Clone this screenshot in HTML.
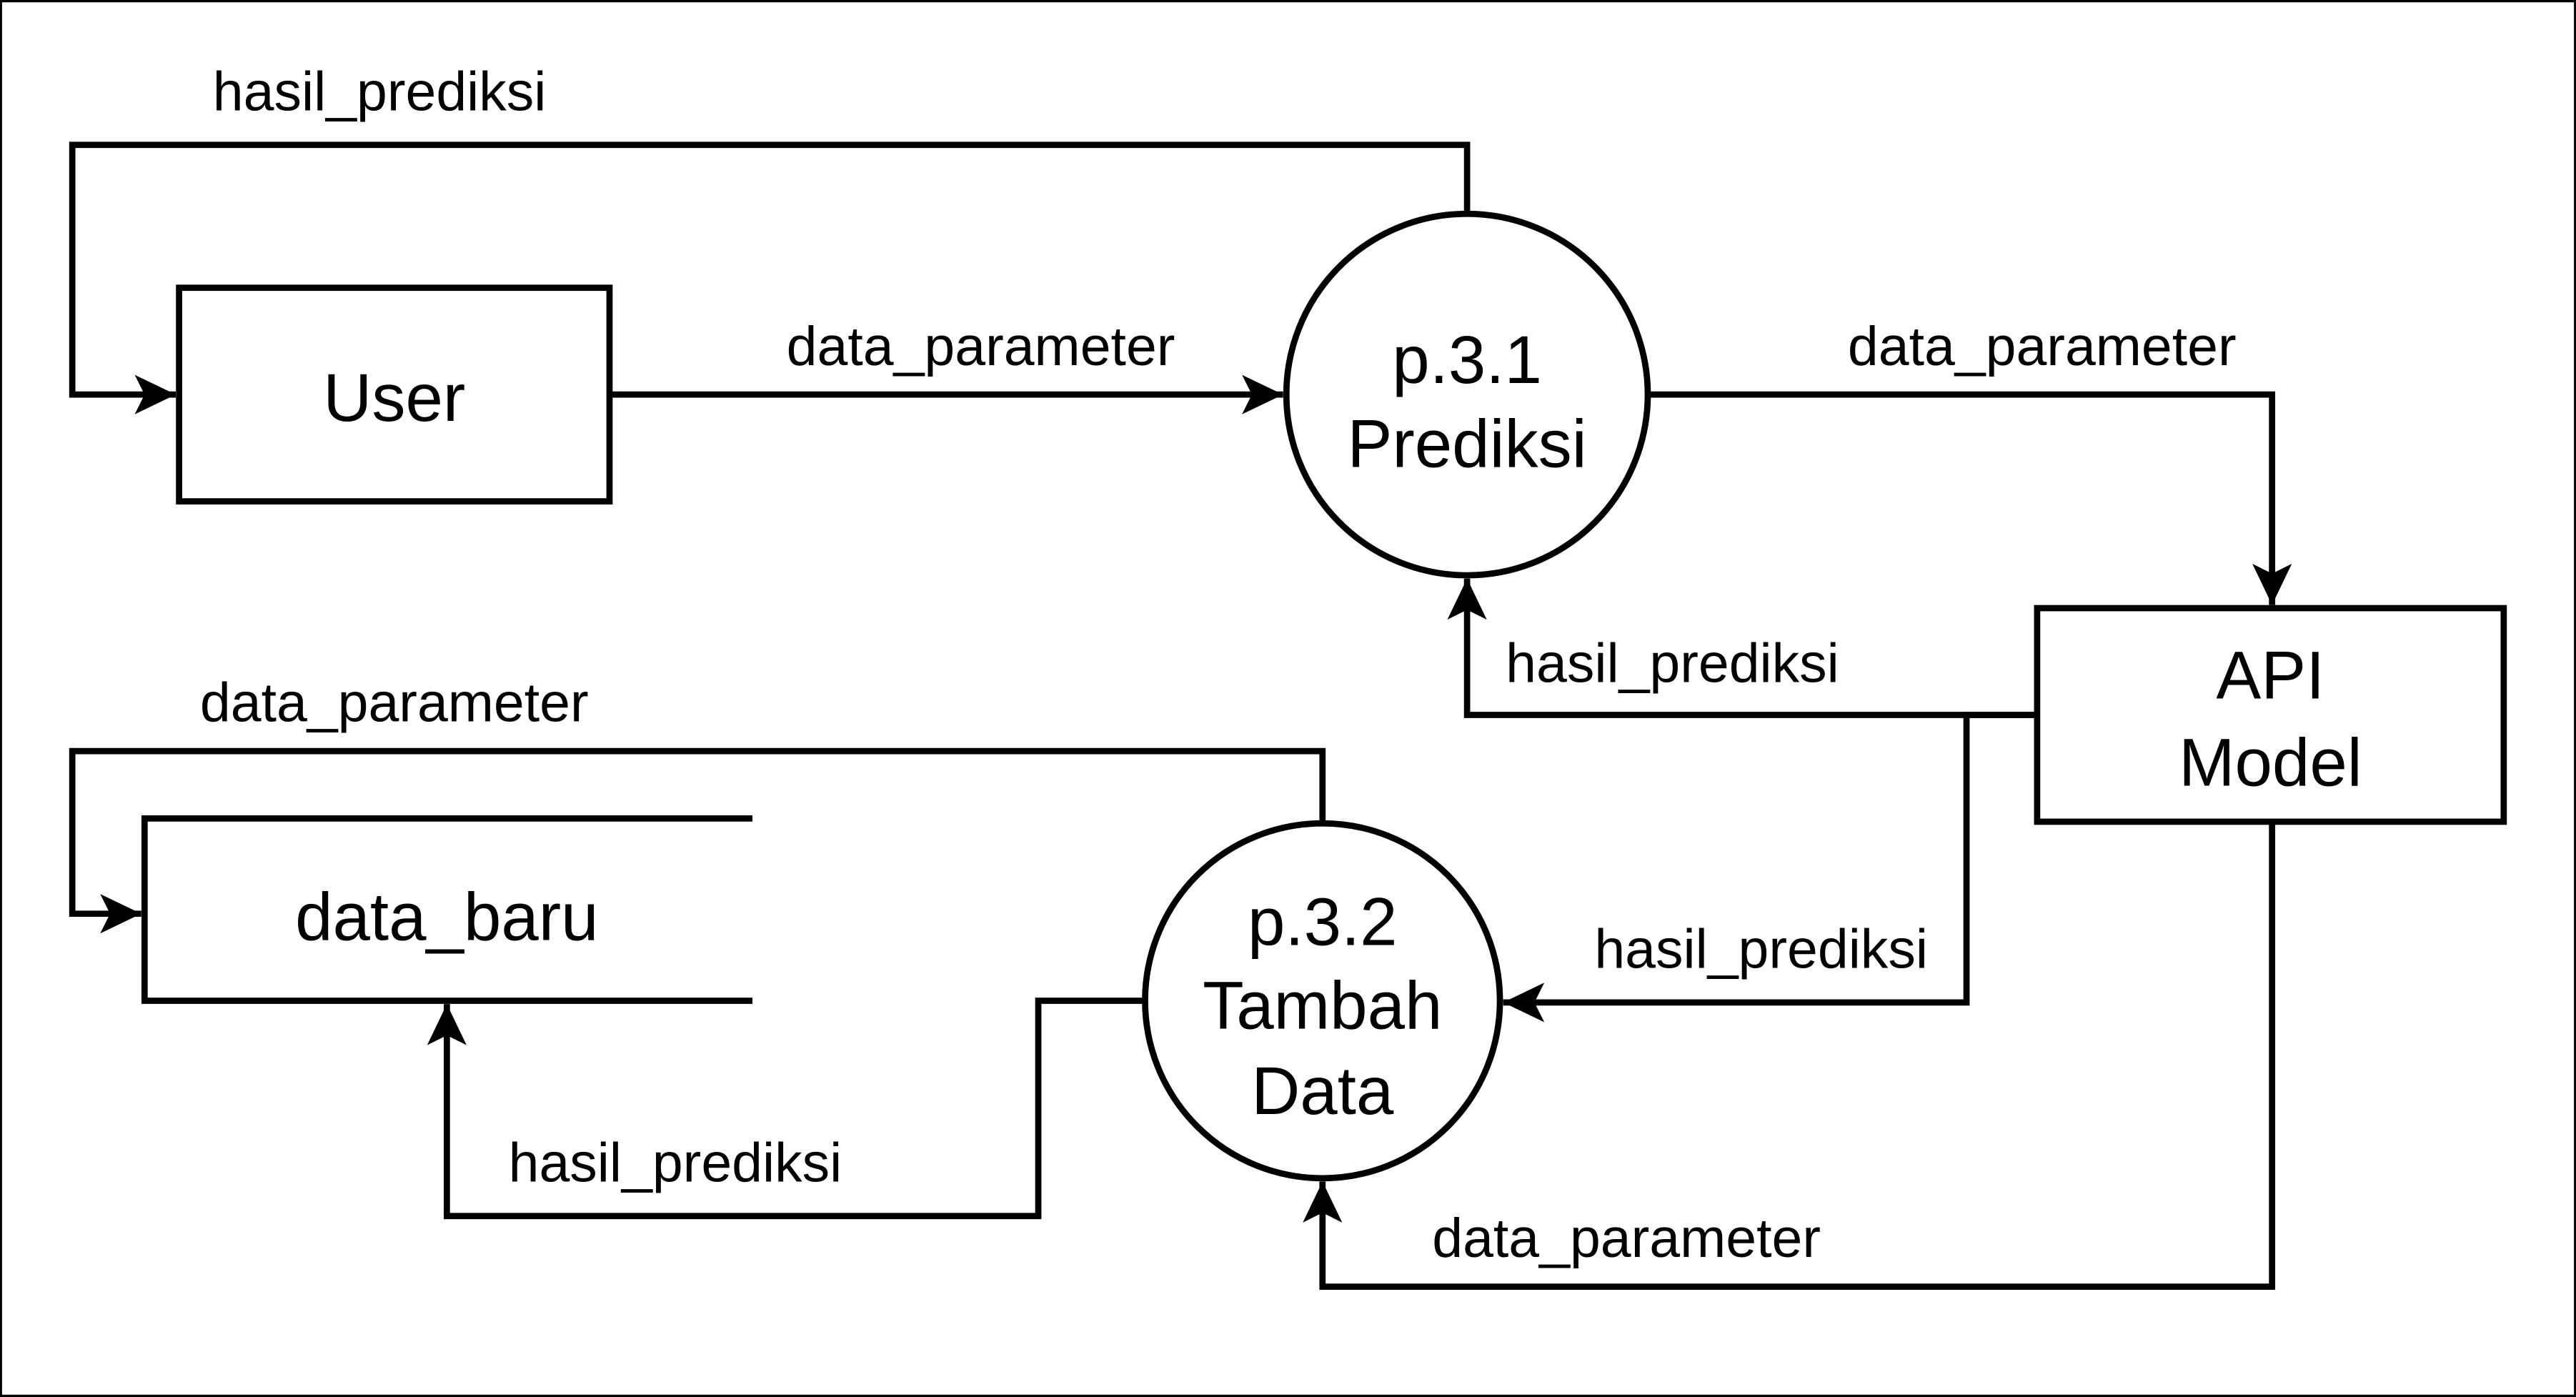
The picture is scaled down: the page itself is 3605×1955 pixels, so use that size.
<!DOCTYPE html>
<html><head><meta charset="utf-8"><style>
html,body{margin:0;padding:0;background:#fff;}
svg{display:block;}
text{font-family:"Liberation Sans",Arial,sans-serif;fill:#000;}
</style></head><body>
<svg width="3605" height="1955" viewBox="0 0 1568 850" xmlns="http://www.w3.org/2000/svg">
<defs>
<marker id="a" markerUnits="userSpaceOnUse" viewBox="0 0 25 24" refX="25" refY="12" markerWidth="25" markerHeight="24" orient="auto">
<path d="M0,0 L25,12 L0,24 L6,12 Z" fill="#000"/>
</marker>
</defs>
<rect x="0.5" y="0.5" width="1567" height="849" fill="#fff" stroke="#000" stroke-width="1.5"/>
<g fill="none" stroke="#000" stroke-width="3.8">
<rect x="109" y="175" width="262" height="130"/>
<circle cx="893" cy="240" r="110" fill="#fff"/>
<rect x="1240" y="370" width="284" height="130"/>
<circle cx="805" cy="609" r="108" fill="#fff"/>
<path d="M458,498 H88 V609 H458"/>
<path d="M893,130 V88 H44 V240 H107" marker-end="url(#a)"/>
<path d="M371,240 H781" marker-end="url(#a)"/>
<path d="M1003,240 H1383 V368" marker-end="url(#a)"/>
<path d="M1240,435 H893 V352" marker-end="url(#a)"/>
<path d="M1240,435 H1197 V610 H915" marker-end="url(#a)"/>
<path d="M1383,500 V783 H805 V719" marker-end="url(#a)"/>
<path d="M805,501 V457 H44 V556 H86" marker-end="url(#a)"/>
<path d="M697,609 H632 V740 H272 V611" marker-end="url(#a)"/>
</g>
<g font-size="41" text-anchor="middle">
<text x="240" y="256">User</text>
<text x="893" y="233">p.3.1</text>
<text x="893" y="284">Prediksi</text>
<text x="1382" y="425">API</text>
<text x="1382" y="478">Model</text>
<text x="272" y="572">data_baru</text>
<text x="805" y="575">p.3.2</text>
<text x="805" y="626">Tambah</text>
<text x="805" y="678">Data</text>
</g>
<g font-size="33.5" text-anchor="middle">
<text x="231" y="67">hasil_prediksi</text>
<text x="597" y="222">data_parameter</text>
<text x="1243" y="222">data_parameter</text>
<text x="1018" y="415">hasil_prediksi</text>
<text x="240" y="439">data_parameter</text>
<text x="1072" y="589">hasil_prediksi</text>
<text x="411" y="719">hasil_prediksi</text>
<text x="990" y="765">data_parameter</text>
</g>
</svg>
</body></html>
